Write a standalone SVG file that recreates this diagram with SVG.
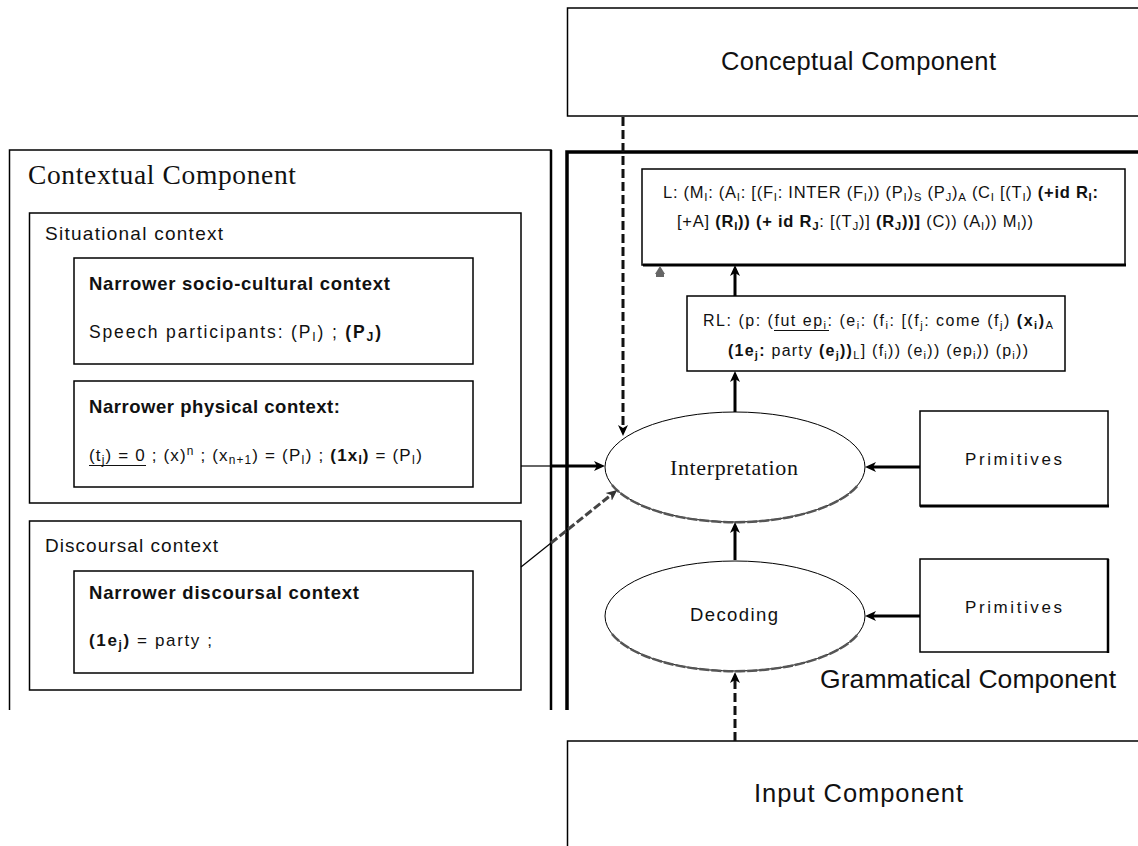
<svg xmlns="http://www.w3.org/2000/svg" width="1138" height="846" viewBox="0 0 1138 846">
<style>
.box{fill:#fff;stroke:#000;stroke-width:1.5}
.t{font-family:"Liberation Sans",Arial,sans-serif;fill:#111}
.sf{font-family:"Liberation Serif","Times New Roman",serif;fill:#111}
.b{font-weight:bold}
.s{font-size:70%}
.ul{stroke:#111;stroke-width:1}
.thin{stroke:#000;stroke-width:1.2;fill:none}
.thick{stroke:#000;stroke-width:3;fill:none}
.dash{stroke:#111;stroke-width:3;stroke-dasharray:9 4;fill:none}
.gdash{stroke:#444;stroke-width:3;stroke-dasharray:8 3;fill:none}
.ell{fill:#fff;stroke:#000;stroke-width:1}
.shadow{fill:none;stroke:#555;stroke-width:2.5;stroke-dasharray:10 2}
</style>
<defs>
<marker id="ah" markerUnits="userSpaceOnUse" markerWidth="12" markerHeight="12" viewBox="0 0 12 12" refX="3" refY="6" orient="auto">
<path d="M0,1 L11,6 L0,11 L3,6 z" fill="#000"/>
</marker>
<marker id="ahg" markerUnits="userSpaceOnUse" markerWidth="12" markerHeight="12" viewBox="0 0 12 12" refX="3" refY="6" orient="auto">
<path d="M0,1 L11,6 L0,11 L3,6 z" fill="#333"/>
</marker>
</defs>

<g id="conceptual">
<rect class="box" x="567.5" y="8" width="580" height="108"/>
<text class="t" x="721" y="70" font-size="25.5" textLength="275" lengthAdjust="spacing">Conceptual Component</text>
</g>

<g id="contextual">
<path d="M9.5,710 V150 H551 V710" fill="none" stroke="#000" stroke-width="1.5"/>
<line x1="551" y1="150" x2="551" y2="710" stroke="#000" stroke-width="2.5"/>
<text class="sf" x="28" y="184" font-size="27.5" textLength="268" lengthAdjust="spacing">Contextual Component</text>
</g>

<g id="situational">
<rect class="box" x="29.5" y="213" width="491.5" height="290"/>
<text class="t" x="45" y="240" font-size="19" textLength="178" lengthAdjust="spacing">Situational context</text>
</g>

<g id="socio">
<rect class="box" x="74" y="258" width="399" height="106"/>
<text class="t b" x="89" y="290" font-size="18.5" textLength="301" lengthAdjust="spacing">Narrower socio-cultural context</text>
<text class="t" x="89" y="338" font-size="17.5" textLength="292" lengthAdjust="spacing">Speech participants: (P<tspan class="s" dy="3">I</tspan><tspan dy="-3">) ; </tspan><tspan class="b">(P</tspan><tspan class="s b" dy="3">J</tspan><tspan class="b" dy="-3">)</tspan></text>
</g>

<g id="physical">
<rect class="box" x="74" y="381" width="399" height="106"/>
<text class="t b" x="89" y="413" font-size="18.5" textLength="251" lengthAdjust="spacing">Narrower physical context:</text>
<text class="t" x="89" y="461" font-size="17" textLength="333" lengthAdjust="spacing">(t<tspan class="s" dy="3">j</tspan><tspan dy="-3">) = 0 ; (x)</tspan><tspan class="s" dy="-6">n</tspan><tspan dy="6"> ; (x</tspan><tspan class="s" dy="3">n+1</tspan><tspan dy="-3">) = (P</tspan><tspan class="s" dy="3">I</tspan><tspan dy="-3">) ; </tspan><tspan class="b">(1x</tspan><tspan class="s b" dy="3">I</tspan><tspan class="b" dy="-3">)</tspan> = (P<tspan class="s" dy="3">I</tspan><tspan dy="-3">)</tspan></text>
<line class="ul" x1="89" y1="465.5" x2="146" y2="465.5"/>
</g>

<g id="discoursal">
<rect class="box" x="29.5" y="521" width="491.5" height="169"/>
<text class="t" x="45" y="552" font-size="19" textLength="173" lengthAdjust="spacing">Discoursal context</text>
</g>

<g id="narrower-discoursal">
<rect class="box" x="74" y="571" width="399" height="102"/>
<text class="t b" x="89" y="599" font-size="18.5" textLength="270" lengthAdjust="spacing">Narrower discoursal context</text>
<text class="t" x="89" y="646" font-size="17" textLength="123" lengthAdjust="spacing"><tspan class="b">(1e</tspan><tspan class="s b" dy="3">j</tspan><tspan class="b" dy="-3">)</tspan> = party ;</text>
</g>

<g id="grammatical">
<path d="M567,710 V152 H1140" fill="none" stroke="#000" stroke-width="3.5"/>
<text class="t" x="820" y="688" font-size="26.5" textLength="296" lengthAdjust="spacing">Grammatical Component</text>
</g>

<g id="L">
<rect class="box" x="642" y="169" width="483" height="96" stroke-width="2"/>
<line x1="643" y1="265" x2="1126" y2="265" stroke="#000" stroke-width="3"/>
<text class="t" x="663" y="198" font-size="16.5" textLength="435" lengthAdjust="spacing">L: (M<tspan class="s" dy="3">I</tspan><tspan dy="-3">: (A</tspan><tspan class="s" dy="3">I</tspan><tspan dy="-3">: [(F</tspan><tspan class="s" dy="3">I</tspan><tspan dy="-3">: INTER (F</tspan><tspan class="s" dy="3">I</tspan><tspan dy="-3">)) (P</tspan><tspan class="s" dy="3">I</tspan><tspan dy="-3">)</tspan><tspan class="s" dy="3">S</tspan><tspan dy="-3"> (P</tspan><tspan class="s" dy="3">J</tspan><tspan dy="-3">)</tspan><tspan class="s" dy="3">A</tspan><tspan dy="-3"> (C</tspan><tspan class="s" dy="3">I</tspan><tspan dy="-3"> [(T</tspan><tspan class="s" dy="3">I</tspan><tspan dy="-3">) </tspan><tspan class="b">(+id R</tspan><tspan class="s b" dy="3">I</tspan><tspan class="b" dy="-3">:</tspan></text>
<text class="t" x="677" y="227" font-size="16.5" textLength="356" lengthAdjust="spacing">[+A] <tspan class="b">(R</tspan><tspan class="s b" dy="3">I</tspan><tspan class="b" dy="-3">))</tspan> <tspan class="b">(+ id R</tspan><tspan class="s b" dy="3">J</tspan><tspan dy="-3">: [(T</tspan><tspan class="s" dy="3">J</tspan><tspan dy="-3">)] </tspan><tspan class="b">(R</tspan><tspan class="s b" dy="3">J</tspan><tspan class="b" dy="-3">))]</tspan> (C)) (A<tspan class="s" dy="3">I</tspan><tspan dy="-3">)) M</tspan><tspan class="s" dy="3">I</tspan><tspan dy="-3">))</tspan></text>
</g>

<g id="RL">
<rect class="box" x="687" y="296" width="378" height="75"/>
<text class="t" x="703" y="326" font-size="16" textLength="350" lengthAdjust="spacing">RL: (p: (fut ep<tspan class="s" dy="3">i</tspan><tspan dy="-3">: (e</tspan><tspan class="s" dy="3">i</tspan><tspan dy="-3">: (f</tspan><tspan class="s" dy="3">i</tspan><tspan dy="-3">: [(f</tspan><tspan class="s" dy="3">j</tspan><tspan dy="-3">: come (f</tspan><tspan class="s" dy="3">j</tspan><tspan dy="-3">) </tspan><tspan class="b">(x</tspan><tspan class="s b" dy="3">i</tspan><tspan class="b" dy="-3">)</tspan><tspan class="s" dy="3">A</tspan></text>
<line class="ul" x1="774" y1="330.5" x2="829" y2="330.5"/>
<text class="t" x="728" y="356" font-size="16" textLength="300" lengthAdjust="spacing"><tspan class="b">(1e</tspan><tspan class="s b" dy="3">j</tspan><tspan class="b" dy="-3">:</tspan> party <tspan class="b">(e</tspan><tspan class="s b" dy="3">j</tspan><tspan class="b" dy="-3">))</tspan><tspan class="s" dy="3">L</tspan><tspan dy="-3">] (f</tspan><tspan class="s" dy="3">i</tspan><tspan dy="-3">)) (e</tspan><tspan class="s" dy="3">i</tspan><tspan dy="-3">)) (ep</tspan><tspan class="s" dy="3">i</tspan><tspan dy="-3">)) (p</tspan><tspan class="s" dy="3">i</tspan><tspan dy="-3">))</tspan></text>
</g>

<g id="interpretation">
<ellipse class="ell" cx="735" cy="467" rx="130" ry="55"/>
<path class="shadow" d="M612,485 A130,55 0 0 0 858,485"/>
<text class="sf" x="670" y="475" font-size="22" textLength="128" lengthAdjust="spacing">Interpretation</text>
</g>

<g id="decoding">
<ellipse class="ell" cx="735" cy="616" rx="130" ry="55"/>
<path class="shadow" d="M612,634 A130,55 0 0 0 858,634"/>
<text class="t" x="690" y="621" font-size="18.5" textLength="88" lengthAdjust="spacing">Decoding</text>
</g>

<g id="primitives1">
<rect class="box" x="920" y="411" width="188" height="95"/>
<line x1="920" y1="506" x2="1109" y2="506" stroke="#000" stroke-width="3"/>
<text class="t" x="965" y="465" font-size="17" textLength="97" lengthAdjust="spacing">Primitives</text>
</g>

<g id="primitives2">
<rect class="box" x="920" y="559" width="188" height="93"/>
<line x1="1108" y1="559" x2="1108" y2="653" stroke="#000" stroke-width="2.5"/>
<text class="t" x="965" y="613" font-size="17" textLength="97" lengthAdjust="spacing">Primitives</text>
</g>

<g id="input">
<rect class="box" x="567.5" y="741" width="580" height="120"/>
<text class="t" x="754" y="802" font-size="25.5" textLength="209" lengthAdjust="spacing">Input Component</text>
</g>

<g id="connectors">
<line class="dash" x1="623" y1="117" x2="623" y2="428" marker-end="url(#ah)"/>
<line class="thin" x1="521" y1="466" x2="551" y2="466"/>
<line class="thick" x1="551" y1="466" x2="597" y2="466" marker-end="url(#ah)"/>
<line class="thin" x1="521" y1="567" x2="551" y2="543"/>
<line class="gdash" x1="551" y1="543" x2="611" y2="495" marker-end="url(#ahg)"/>
<line class="thick" x1="920" y1="467" x2="873" y2="467" marker-end="url(#ah)"/>
<line class="thick" x1="920" y1="616" x2="873" y2="616" marker-end="url(#ah)"/>
<line class="thick" x1="735" y1="560" x2="735" y2="530" marker-end="url(#ah)"/>
<line class="thick" x1="735" y1="412" x2="735" y2="379" marker-end="url(#ah)"/>
<line class="thick" x1="735" y1="296" x2="735" y2="273" marker-end="url(#ah)"/>
<line class="dash" x1="735" y1="741" x2="735" y2="680" marker-end="url(#ah)"/>
<path d="M660,266 L665,274 L655,274 z M656,274 H664 V277 H656 z" fill="#666"/>
</g>
</svg>
